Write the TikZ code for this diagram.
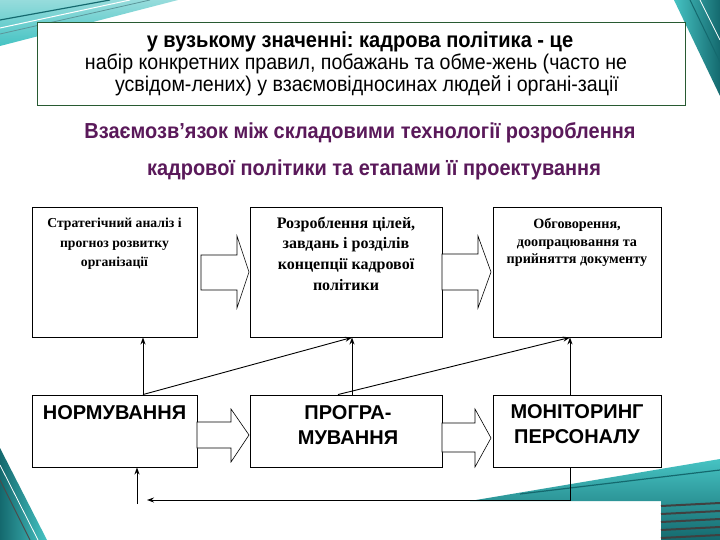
\documentclass[tikz,border=0pt]{standalone}
\usepackage{fontspec}
\setmainfont{Liberation Serif}
\newfontfamily\arialN[FakeStretch=0.92]{Liberation Sans}
\newfontfamily\arial{Liberation Sans}
\usetikzlibrary{arrows.meta,calc}
\frenchspacing
\definecolor{tealA}{RGB}{70,195,195}
\definecolor{tealB}{RGB}{20,105,110}
\definecolor{tealC}{RGB}{150,220,220}
\definecolor{frameG}{RGB}{40,90,50}
\definecolor{titleP}{RGB}{90,25,90}
\tikzset{
  box/.style={draw=black, line width=0.9pt, fill=white, inner sep=0pt},
  topbox/.style={box, minimum height=130pt},
  lowbox/.style={box, minimum height=72pt},
  link/.style={line width=0.9pt, -{Stealth[length=7pt,width=5pt]}},
  blockarrow/.style={draw=black, line width=0.6pt, fill=white},
  deftext/.style={inner sep=0pt, font=\arialN\fontsize{21.3}{24}\selectfont},
  defhead/.style={inner sep=0pt, font=\arialN\bfseries\fontsize{21.8}{24}\selectfont},
  titletext/.style={inner sep=0pt, text=titleP, font=\arialN\bfseries\fontsize{21.7}{24}\selectfont},
  serifsmall/.style={inner sep=0pt, align=center, font=\bfseries\fontsize{13.7}{19.5}\selectfont},
  serifmid/.style={inner sep=0pt, align=center, font=\bfseries\fontsize{16}{20.7}\selectfont},
  seriftiny/.style={inner sep=0pt, align=center, font=\bfseries\fontsize{14.2}{17.5}\selectfont},
  captext/.style={inner sep=0pt, align=center, font=\arial\bfseries\fontsize{20}{25}\selectfont},
}
\begin{document}
\begin{tikzpicture}[x=1pt,y=-1pt]
\useasboundingbox (0,0) rectangle (720,540);
\fill[white] (0,0) rectangle (720,540);
% decorative swooshes
\shade[top color=tealC, bottom color=tealA] (0,0) -- (178,0) -- (0,46) -- cycle;
\draw[tealB, line width=1.2pt] (0,20) -- (110,0);
\draw[tealB!70, line width=0.8pt] (0,34) -- (150,0);
\draw[white, line width=1pt] (0,28) -- (130,0);
\shade[left color=tealA, right color=tealB] (674,0) -- (720,0) -- (720,96) -- cycle;
\draw[tealB, line width=1pt] (690,0) -- (720,62);
\draw[white, line width=0.8pt] (700,0) -- (720,40);
\shade[left color=tealB, right color=tealA] (0,448) -- (47,540) -- (0,540) -- cycle;
\draw[black!70, line width=1pt] (0,480) -- (30,540);
\draw[white, line width=0.8pt] (0,465) -- (38,540);
\shade[top color=tealA, bottom color=tealB] (470,501) -- (720,459) -- (720,540) -- (661,540) -- (661,501) -- cycle;
\draw[tealB, line width=1.2pt] (520,494) -- (720,470);
\foreach \yy in {506,514,522,530,538}{\draw[black!75, line width=2pt] (661,\yy) -- (720,\yy-3);}
% definition box
\node[draw=frameG, line width=0.8pt, fill=white, minimum width=648pt, minimum height=83pt, inner sep=0pt] (defbox) at (361,63.5) {};
\node[defhead] (def1) at (360,42) {у вузькому значенні: кадрова політика - це};
\node[deftext] (def2) at (356,64) {набір конкретних правил, побажань та обме-жень (часто не};
\node[deftext] (def3) at (367,86) {усвідом-лених) у взаємовідносинах людей і органі-зації};
% title
\node[titletext] (tit1) at (360,133) {Взаємозв’язок між складовими технології розроблення};
\node[titletext] (tit2) at (374,170) {кадрової політики та етапами її проектування};
% upper boxes
\node[topbox, minimum width=165pt] (b1) at (114.5,272) {};
\node[topbox, minimum width=192pt] (b2) at (346,272) {};
\node[topbox, minimum width=168pt] (b3) at (577,272) {};
\node[serifsmall, anchor=north] (t1) at (114.5,218) {Стратегічний аналіз і\\прогноз розвитку\\організації};
\node[serifmid, anchor=north] (t2) at (346,216.5) {Розроблення цілей,\\завдань і розділів\\концепції кадрової\\політики};
\node[seriftiny, anchor=north] (t3) at (577,218.5) {Обговорення,\\доопрацювання та\\прийняття документу};
% lower boxes
\node[lowbox, minimum width=165pt] (b4) at (114.5,431) {};
\node[lowbox, minimum width=192pt] (b5) at (346,431) {};
\node[lowbox, minimum width=168pt] (b6) at (577,431) {};
\node[captext, anchor=north] (t4) at (114.5,405) {НОРМУВАННЯ};
\node[captext, anchor=north] (t5) at (348,405) {ПРОГРА-\\МУВАННЯ};
\node[captext, anchor=north] (t6) at (577,404) {МОНІТОРИНГ\\ПЕРСОНАЛУ};
% block arrows
\draw[blockarrow] (201,255) -- (237,255) -- (237,236) -- (249,272) -- (237,308) -- (237,290) -- (201,290) -- cycle;
\draw[blockarrow] (442,254) -- (478,254) -- (478,236) -- (491,272) -- (478,308) -- (478,290) -- (442,290) -- cycle;
\draw[blockarrow] (197,422) -- (231,422) -- (231,409) -- (249,435) -- (231,462) -- (231,448) -- (197,448) -- cycle;
\draw[blockarrow] (442,423) -- (475,423) -- (475,409) -- (491,438) -- (475,467) -- (475,452) -- (442,452) -- cycle;
% connectors
\coordinate (xa) at (143,0);
\coordinate (xb) at (352,0);
\coordinate (xc) at (338,0);
\coordinate (xd) at (570,0);
\coordinate (xe) at (137,0);
\coordinate (fbend) at (570,500);
\coordinate (fend) at (147,500);
\coordinate (fstart) at (137,504);
\draw[link] (xa |- b4.north) -- (xa |- b1.south);
\draw[link] (xa |- b4.north) -- (xb |- b2.south);
\draw[link] (xb |- b5.north) -- (xb |- b2.south);
\draw[link] (xc |- b5.north) -- (xd |- b3.south);
\draw[link] (xd |- b6.north) -- (xd |- b3.south);
\draw[link] (xd |- b6.south) -- (fbend) -- (fend);
\draw[link] (fstart) -- (xe |- b4.south);
\end{tikzpicture}
\end{document}
